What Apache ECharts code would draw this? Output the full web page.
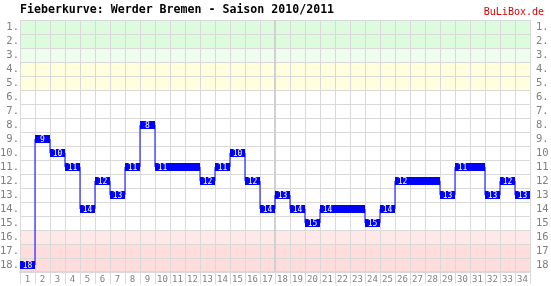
<!DOCTYPE html>
<html>
<head>
<meta charset="utf-8">
<script src="https://cdn.jsdelivr.net/npm/echarts@6/dist/echarts.min.js"></script>
<style>html,body{margin:0;padding:0;background:#fff}#c{width:551px;height:286px}</style>
</head>
<body>
<div id="c"></div>
<script>
const titleText = 'Fieberkurve: Werder Bremen - Saison 2010/2011';
const brandText = 'BuLiBox.de';
const matchdays = ['1','2','3','4','5','6','7','8','9','10','11','12','13','14','15','16','17','18','19','20','21','22','23','24','25','26','27','28','29','30','31','32','33','34'];
const rankLabels = ['1.','2.','3.','4.','5.','6.','7.','8.','9.','10.','11.','12.','13.','14.','15.','16.','17.','18.'];
const ranks = [18,9,10,11,14,12,13,11,8,11,11,11,12,11,10,12,14,13,14,15,14,14,14,15,14,12,12,12,13,11,11,13,12,13];
const secondHalfStart = [17];
const bandColors = ['#ddfcdd','#ddfcdd','#eefdee','#ffffdd','#ffffdd','#ffffff','#ffffff','#ffffff','#ffffff','#ffffff','#ffffff','#ffffff','#ffffff','#ffffff','#ffffff','#ffe8e8','#ffdddd','#ffdddd'];

const chart = echarts.init(document.getElementById('c'), null, {renderer:'canvas'});
const mono = 'DejaVu Sans Mono';
const gridColor = '#d9d9d9';

const lineData = ranks.map((r,i)=>[i, r-1]);
const boxData = ranks.map((r,i)=>[i, r-1, r, (i===0 || ranks[i-1]!==r) ? 1 : 0]);

const yAxisBase = {
  type:'category', data: rankLabels, inverse:true, boundaryGap:true,
  axisLine:{show:false}, axisTick:{show:false}
};

chart.setOption({
  animation:false,
  title:{text:titleText, left:20, top:4, padding:0, textStyle:{fontFamily:mono, fontWeight:'bold', fontSize:11.6, color:'#000'}},
  graphic:[{type:'text', right:7, top:7, style:{text:brandText, font:'10px "DejaVu Sans Mono"', fill:'#dd0000'}}],
  grid:{left:20, right:21, top:20, bottom:14, containLabel:false, outerBoundsMode:'none'},
  xAxis:{
    type:'category', data:matchdays, boundaryGap:true,
    axisLine:{show:true, lineStyle:{color:gridColor, width:2}},
    axisTick:{show:true, interval:0, length:12, lineStyle:{color:gridColor}},
    axisLabel:{interval:0, margin:3, fontFamily:mono, fontSize:9, color:'#808080'},
    splitLine:{show:true, interval:0, lineStyle:{color:gridColor, width:1}}
  },
  yAxis:[
    Object.assign({}, yAxisBase, {
      position:'left',
      axisLabel:{interval:0, margin:1, fontFamily:mono, fontSize:10.5, color:'#808080'},
      splitLine:{show:true, interval:0, lineStyle:{color:gridColor, width:1}},
      splitArea:{show:true, interval:0, areaStyle:{color:bandColors}}
    }),
    Object.assign({}, yAxisBase, {
      position:'right',
      axisLabel:{interval:0, margin:6, fontFamily:mono, fontSize:10.5, color:'#808080'},
      splitLine:{show:false}, splitArea:{show:false}
    })
  ],
  series:[
    {
      type:'custom', data:secondHalfStart.map(i=>[i, 0]), encode:{x:0, y:1}, z:2, silent:true,
      renderItem:function(params, api){
        const p = api.coord([api.value(0), 0]);
        const s = api.size([1,1]);
        const cs = params.coordSys;
        const x = Math.round(p[0]-s[0]/2);
        return {type:'line', shape:{x1:x, y1:cs.y, x2:x, y2:cs.y+cs.height},
          style:{stroke:'#d0d0d0', lineWidth:2}};
      }
    },
    {
      type:'line', data:lineData, step:'middle', showSymbol:false, symbol:'none',
      lineStyle:{color:'#0000ff', width:1}, z:3, silent:true
    },
    {
      type:'custom', data:boxData, encode:{x:0, y:1}, z:4, silent:true,
      renderItem:function(params, api){
        const p = api.coord([api.value(0), api.value(1)]);
        const s = api.size([1,1]);
        const children = [{
          type:'rect',
          shape:{x:p[0]-s[0]/2, y:p[1]-4, width:s[0], height:8},
          style:{fill:'#0000ff'}
        }];
        if (api.value(3)) {
          children.push({type:'text', style:{text:String(api.value(2)), x:p[0], y:p[1]+0.5,
            align:'center', verticalAlign:'middle', fill:'#ffffff', font:'8px "DejaVu Sans Mono"'}});
        }
        return {type:'group', children:children};
      }
    }
  ]
});
</script>
</body>
</html>
